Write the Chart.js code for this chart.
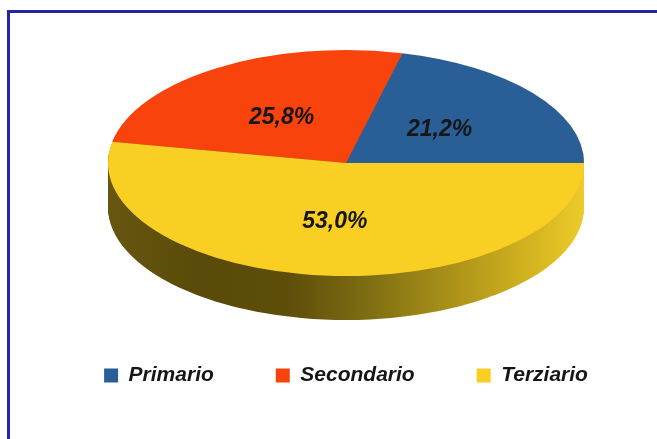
<!DOCTYPE html>
<html>
<head>
<meta charset="utf-8">
<script src="https://cdn.jsdelivr.net/npm/chart.js@4"></script>
<style>
  html, body { margin: 0; padding: 0; background: #ffffff; }
  body { width: 657px; height: 439px; overflow: hidden; position: relative; }
  #frame { position: absolute; left: 7px; top: 10px; width: 800px; height: 600px;
           border-left: 3px solid #2626a2; border-top: 3px solid #2626a2; }
  #c { position: absolute; left: 0; top: 0; }
</style>
</head>
<body>
<div id="frame"></div>
<canvas id="c" width="657" height="439"></canvas>
<script>
const categories = ['Primario', 'Secondario', 'Terziario'];
const shares = [21.2, 25.8, 53.0];
const sliceColors = ['#2a5e96', '#f8430d', '#f8cf22'];

const sideStops = [
  [0.00, '#665610'],
  [0.20, '#5a4a09'],
  [0.38, '#5e4e0a'],
  [0.55, '#7e6e12'],
  [0.72, '#aa9219'],
  [0.88, '#d2b21f'],
  [1.00, '#eccb2a']
];

function fmtPct(v, total) {
  return (v / total * 100).toFixed(1).replace('.', ',') + '%';
}

const pie3d = {
  id: 'pie3d',
  beforeDatasetsDraw(chart, args, opts) {
    const ctx = chart.ctx;
    const meta = chart.getDatasetMeta(0);
    const ca = chart.chartArea;
    const g = {
      cx: (ca.left + ca.right) / 2,
      cy: ca.top + opts.ry,
      rx: opts.rx, ry: opts.ry, depth: opts.depth
    };
    const project = (arc, d) => {
      ctx.translate(g.cx, g.cy + d);
      ctx.scale(g.rx / arc.outerRadius, -g.ry / arc.outerRadius);
      ctx.translate(-arc.x, -arc.y);
    };
    // side walls
    for (let d = g.depth; d >= 1; d -= 1) {
      meta.data.forEach(arc => {
        ctx.save();
        project(arc, d);
        const grad = ctx.createLinearGradient(arc.x - arc.outerRadius, 0, arc.x + arc.outerRadius, 0);
        opts.sideStops.forEach(s => grad.addColorStop(s[0], s[1]));
        const o = arc.options;
        const bg = o.backgroundColor, bw = o.borderWidth;
        o.backgroundColor = grad; o.borderWidth = 0;
        arc.draw(ctx);
        o.backgroundColor = bg; o.borderWidth = bw;
        ctx.restore();
      });
    }
    // top face
    meta.data.forEach(arc => {
      ctx.save();
      project(arc, 0);
      arc.draw(ctx);
      ctx.restore();
    });
    // labels
    const data = chart.data.datasets[0].data;
    const total = data.reduce((a, b) => a + b, 0);
    ctx.save();
    ctx.font = 'italic bold 23px "Liberation Sans", Arial, sans-serif';
    ctx.fillStyle = '#161616';
    ctx.textAlign = 'center';
    ctx.textBaseline = 'middle';
    meta.data.forEach((arc, i) => {
      const mid = (arc.startAngle + arc.endAngle) / 2;
      const x = g.cx + Math.cos(mid) * g.rx * opts.labelR;
      const y = g.cy - Math.sin(mid) * g.ry * opts.labelR + opts.labelDy;
      ctx.fillText(fmtPct(data[i], total), x, y);
    });
    ctx.restore();
    return false;
  }
};

new Chart(document.getElementById('c'), {
  type: 'pie',
  data: {
    labels: categories,
    datasets: [{
      data: shares,
      backgroundColor: sliceColors,
      borderWidth: 0
    }]
  },
  plugins: [pie3d],
  options: {
    responsive: false,
    animation: false,
    rotation: 90,
    layout: { padding: { top: 50, left: 35, right: 0, bottom: 43 } },
    plugins: {
      pie3d: { rx: 238, ry: 113, depth: 44, labelR: 0.5, labelDy: 2, sideStops: sideStops },
      tooltip: { enabled: false },
      legend: {
        position: 'bottom',
        labels: {
          boxWidth: 14,
          boxHeight: 14,
          padding: 62,
          color: '#161616',
          font: { family: '"Liberation Sans", Arial, sans-serif', size: 21, style: 'italic', weight: 'bold' }
        }
      }
    }
  }
});
</script>
</body>
</html>
